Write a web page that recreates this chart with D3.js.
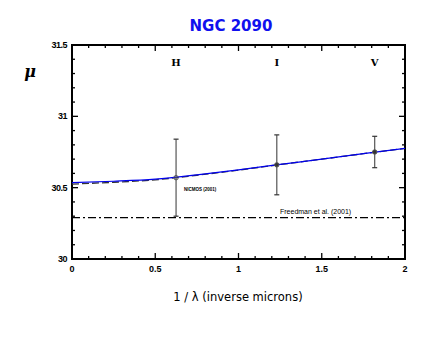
<!DOCTYPE html>
<html>
<head>
<meta charset="utf-8">
<script src="https://cdn.jsdelivr.net/npm/d3@7"></script>
<style>
body { margin: 0; background: #fff; }
</style>
</head>
<body>
<script>
// data
var bands = ["H", "I", "V"];
var invLambda = [0.625, 1.23, 1.818];
var mu = [30.57, 30.66, 30.75];
var muErr = [0.27, 0.21, 0.11];
var fitX = [0, 0.25, 0.5, 0.75, 1, 1.25, 1.5, 1.75, 2];
var fitMu = [30.535, 30.545, 30.56, 30.59, 30.625, 30.663, 30.70, 30.738, 30.775];
var dashMu = [30.525, 30.538, 30.555, 30.587, 30.623, 30.662, 30.70, 30.738, 30.775];
var freedmanMu = 30.29;
var xTicks = [0, 0.5, 1, 1.5, 2];
var yTicks = [30, 30.5, 31, 31.5];

var W = 436, H = 337;
var svg = d3.select("body").append("svg")
    .attr("width", W).attr("height", H);

var x = d3.scaleLinear().domain([0, 2]).range([72, 405]);
var y = d3.scaleLinear().domain([30, 31.5]).range([259, 45]);

var minorX = d3.range(0, 2.001, 0.1);
var minorY = d3.range(30, 31.501, 0.1);

// ticks on all four sides, pointing inwards
var g = svg.append("g");
minorX.forEach(function(v) {
    var major = Math.abs(v * 2 - Math.round(v * 2)) < 1e-6;
    var len = major ? 6 : 3;
    g.append("line").attr("x1", x(v)).attr("x2", x(v)).attr("y1", y(30)).attr("y2", y(30) - len)
        .attr("stroke", "#000").attr("stroke-width", 1.3);
    g.append("line").attr("x1", x(v)).attr("x2", x(v)).attr("y1", y(31.5)).attr("y2", y(31.5) + len)
        .attr("stroke", "#000").attr("stroke-width", 1.3);
});
minorY.forEach(function(v) {
    var major = Math.abs(v * 2 - Math.round(v * 2)) < 1e-6;
    var len = major ? 6 : 3;
    g.append("line").attr("y1", y(v)).attr("y2", y(v)).attr("x1", x(0)).attr("x2", x(0) + len)
        .attr("stroke", "#000").attr("stroke-width", 1.3);
    g.append("line").attr("y1", y(v)).attr("y2", y(v)).attr("x1", x(2)).attr("x2", x(2) - len)
        .attr("stroke", "#000").attr("stroke-width", 1.3);
});

svg.append("rect")
    .attr("x", x(0)).attr("y", y(31.5))
    .attr("width", x(2) - x(0)).attr("height", y(30) - y(31.5))
    .attr("fill", "none").attr("stroke", "#000").attr("stroke-width", 2);

// tick labels
svg.selectAll(".xt").data(xTicks).join("text")
    .attr("x", d => x(d)).attr("y", 272)
    .attr("text-anchor", "middle")
    .attr("font-family", "Liberation Sans, Arial, sans-serif")
    .attr("font-weight", "bold").attr("font-size", 9)
    .text(d => d);
svg.selectAll(".yt").data(yTicks).join("text")
    .attr("x", 67).attr("y", d => y(d) + 3)
    .attr("text-anchor", "end")
    .attr("font-family", "Liberation Sans, Arial, sans-serif")
    .attr("font-weight", "bold").attr("font-size", 9)
    .attr("letter-spacing", -0.5)
    .text(d => d);

// Freedman dash-dot line
svg.append("line")
    .attr("x1", x(0)).attr("x2", x(2))
    .attr("y1", y(freedmanMu)).attr("y2", y(freedmanMu))
    .attr("stroke", "#000").attr("stroke-width", 1.2)
    .attr("stroke-dasharray", "8,3,2,3");

var line = d3.line().x((d, i) => x(fitX[i])).y(d => y(d)).curve(d3.curveMonotoneX);

svg.append("path").attr("d", line(dashMu))
    .attr("fill", "none").attr("stroke", "#333").attr("stroke-width", 1.3)
    .attr("stroke-dasharray", "7,3");
svg.append("path").attr("d", line(fitMu))
    .attr("fill", "none").attr("stroke", "#0000ee").attr("stroke-width", 1.2);

// error bars
var eb = svg.selectAll(".eb").data(mu).join("g");
eb.append("line")
    .attr("x1", (d, i) => x(invLambda[i])).attr("x2", (d, i) => x(invLambda[i]))
    .attr("y1", (d, i) => y(d + muErr[i])).attr("y2", (d, i) => y(d - muErr[i]))
    .attr("stroke", "#555").attr("stroke-width", 1.2);
[1, -1].forEach(function(s) {
    eb.append("line")
        .attr("x1", (d, i) => x(invLambda[i]) - 2.5).attr("x2", (d, i) => x(invLambda[i]) + 2.5)
        .attr("y1", (d, i) => y(d + s * muErr[i])).attr("y2", (d, i) => y(d + s * muErr[i]))
        .attr("stroke", "#333").attr("stroke-width", 1.2);
});
eb.append("circle")
    .attr("cx", (d, i) => x(invLambda[i])).attr("cy", d => y(d))
    .attr("r", 2.2)
    .attr("fill", (d, i) => i == 0 ? "none" : "#333")
    .attr("stroke", "#555").attr("stroke-width", 1);

// band letters
svg.selectAll(".band").data(bands).join("text")
    .attr("x", (d, i) => x(invLambda[i])).attr("y", 66)
    .attr("text-anchor", "middle")
    .attr("font-family", "DejaVu Serif, serif")
    .attr("font-weight", "bold").attr("font-size", 10)
    .text(d => d);

// annotations
svg.append("text").attr("x", 184).attr("y", 191)
    .attr("font-family", "Liberation Sans, Arial, sans-serif")
    .attr("font-size", 4.5).attr("font-weight", "bold")
    .text("NICMOS (2001)");
svg.append("text").attr("x", 280).attr("y", 214)
    .attr("font-family", "Liberation Sans, Arial, sans-serif")
    .attr("font-size", 7)
    .text("Freedman et al. (2001)");

// title and axis labels
svg.append("text").attr("x", 231).attr("y", 31)
    .attr("text-anchor", "middle")
    .attr("font-family", "DejaVu Sans, sans-serif")
    .attr("font-weight", "bold").attr("font-size", 15)
    .attr("fill", "#1010ee")
    .text("NGC 2090");
svg.append("text").attr("x", 30).attr("y", 77)
    .attr("text-anchor", "middle")
    .attr("font-family", "DejaVu Serif, serif")
    .attr("font-style", "italic").attr("font-weight", "bold").attr("font-size", 16)
    .text("μ");
svg.append("text").attr("x", 238).attr("y", 301)
    .attr("text-anchor", "middle")
    .attr("font-family", "DejaVu Sans, sans-serif")
    .attr("font-size", 11.5)
    .text("1 / λ (inverse microns)");
</script>
</body>
</html>
